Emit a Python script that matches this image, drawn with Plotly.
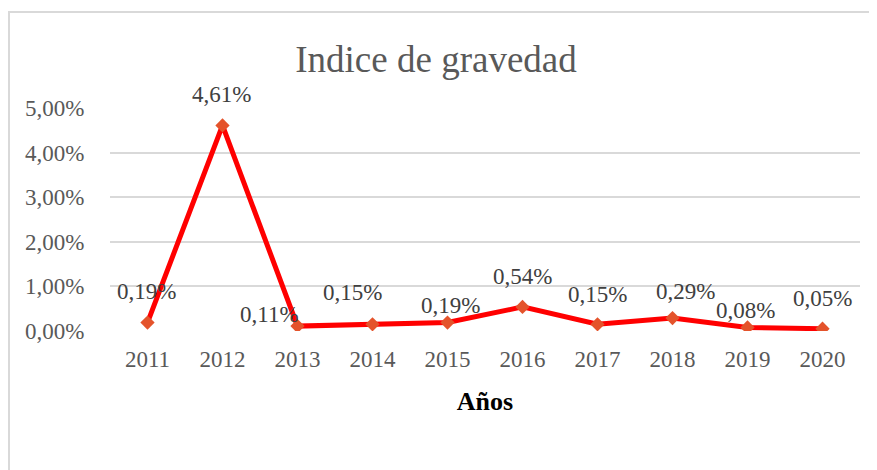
import plotly.graph_objects as go

years = ["2011", "2012", "2013", "2014", "2015", "2016", "2017", "2018", "2019", "2020"]
indice = [0.0019, 0.0461, 0.0011, 0.0015, 0.0019, 0.0054, 0.0015, 0.0029, 0.0008, 0.0005]
labels = ["0,19%", "4,61%", "0,11%", "0,15%", "0,19%", "0,54%", "0,15%", "0,29%", "0,08%", "0,05%"]
y_ticks = [0, 0.01, 0.02, 0.03, 0.04, 0.05]

# label offsets in pixels (styling)
label_dx = [-1, -1, -28, -20, 3, 0, 0, 13, -2, 0]
label_dy = [31, 31, 12, 32, 17, 30, 30, 27, 17, 30]

FONT = "Liberation Serif"
W, H = 869, 462  # page body has an 8px margin

fig = go.Figure()
fig.add_trace(go.Scatter(
    x=years, y=indice, mode="lines+markers",
    line=dict(color="#FF0000", width=5),
    marker=dict(symbol="diamond", size=11, color="#E4532B"),
    hoverinfo="skip", showlegend=False,
))

for i, (yv, t, dx, dy) in enumerate(zip(indice, labels, label_dx, label_dy)):
    fig.add_annotation(x=i, y=yv, xref="x", yref="y", text=t, showarrow=False,
                       xshift=dx, yshift=dy,
                       font=dict(family=FONT, size=23, color="#404040"))

fig.add_shape(type="rect", xref="paper", yref="paper",
              x0=-0.1347, x1=1.03, y0=-0.65, y1=1.4305,
              line=dict(color="#D9D9D9", width=2), fillcolor="rgba(0,0,0,0)")

fig.update_layout(
    width=W, height=H,
    margin=dict(l=102, r=17, t=100, b=139),
    paper_bgcolor="white", plot_bgcolor="white",
    separators=",.",
    title=dict(text="Indice de gravedad", x=428 / W, xref="container", xanchor="center",
               y=1 - 51 / H, yref="container", yanchor="middle",
               font=dict(family=FONT, size=37, color="#595959")),
    xaxis=dict(
        type="category", range=[-0.5, 9.5], showgrid=False, zeroline=False,
        showline=False, ticks="outside", ticklen=7, tickcolor="rgba(0,0,0,0)",
        tickfont=dict(family=FONT, size=23, color="#595959"),
        title=dict(text="<b>Años</b>", standoff=21,
                   font=dict(family=FONT, size=26, color="#000000")),
    ),
    yaxis=dict(
        range=[0, 0.05], tickvals=y_ticks, tickformat=".2%",
        showgrid=True, gridcolor="#D9D9D9", gridwidth=1.5, zeroline=False,
        showline=False, ticks="outside", ticklen=20, tickcolor="rgba(0,0,0,0)",
        tickfont=dict(family=FONT, size=23, color="#595959"),
    ),
)

fig.write_html("out.html")
